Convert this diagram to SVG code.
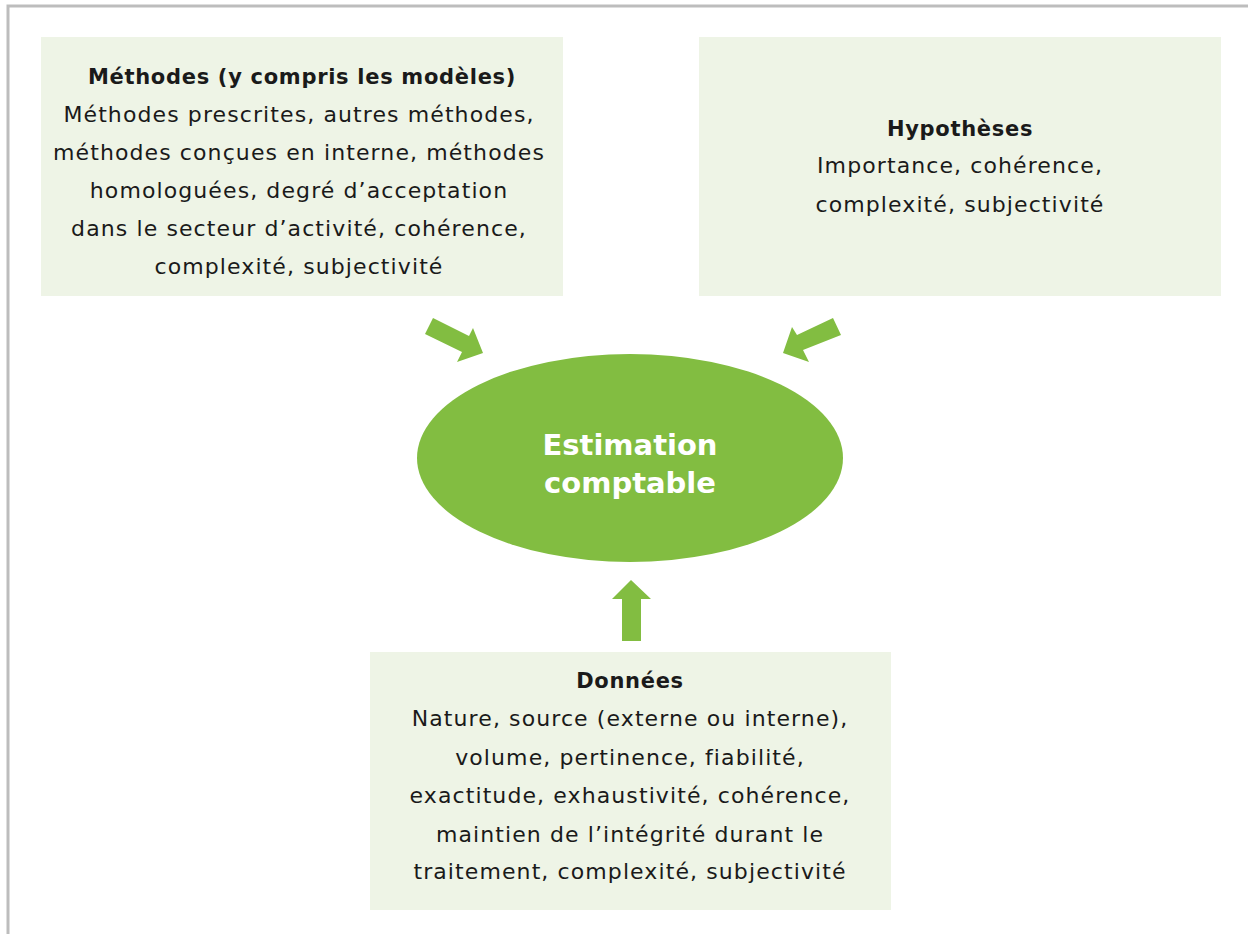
<svg xmlns="http://www.w3.org/2000/svg" width="1248" height="934" viewBox="0 0 1248 934">
<style>
.box{fill:#eef4e6}
.t{font-family:"DejaVu Sans","Open Sans",sans-serif;font-size:22px;letter-spacing:1.1px;fill:#1a1a1a;text-anchor:middle}
.b{font-weight:bold;font-size:21px;letter-spacing:0.7px}
.arr{fill:#82bd41}
.e{font-family:"DejaVu Sans","Open Sans",sans-serif;font-size:29px;font-weight:bold;fill:#ffffff;text-anchor:middle}
</style>
<rect x="0" y="0" width="1248" height="934" fill="#ffffff"/>
<path d="M8,934 V6 H1248" fill="none" stroke="#bdbdbd" stroke-width="3"/>
<g id="methodes">
<rect class="box" x="41" y="37" width="522" height="259"/>
<text class="t b" x="302" y="84">Méthodes (y compris les modèles)</text>
<text class="t" x="299" y="122">Méthodes prescrites, autres méthodes,</text>
<text class="t" x="299" y="160">méthodes conçues en interne, méthodes</text>
<text class="t" x="299" y="198">homologuées, degré d’acceptation</text>
<text class="t" x="299" y="236">dans le secteur d’activité, cohérence,</text>
<text class="t" x="299" y="274">complexité, subjectivité</text>
</g>
<g id="hypotheses">
<rect class="box" x="699" y="37" width="522" height="259"/>
<text class="t b" x="960" y="136">Hypothèses</text>
<text class="t" x="960" y="173">Importance, cohérence,</text>
<text class="t" x="960" y="212">complexité, subjectivité</text>
</g>
<g id="donnees">
<rect class="box" x="370" y="652" width="521" height="258"/>
<text class="t b" x="630" y="688">Données</text>
<text class="t" x="630" y="726">Nature, source (externe ou interne),</text>
<text class="t" x="630" y="765">volume, pertinence, fiabilité,</text>
<text class="t" x="630" y="803">exactitude, exhaustivité, cohérence,</text>
<text class="t" x="630" y="842">maintien de l’intégrité durant le</text>
<text class="t" x="630" y="879">traitement, complexité, subjectivité</text>
</g>
<g id="estimation">
<ellipse cx="630" cy="458" rx="213" ry="104" fill="#82bd41"/>
<text class="e" x="630" y="455">Estimation</text>
<text class="e" x="630" y="493">comptable</text>
</g>
<g id="connectors">
<polygon class="arr" points="433,318 469,336 473,328 483,353 457,362 462,352 425,334"/>
<polygon class="arr" points="833,318 797,335 792,327 783,353 809,362 803,350 841,335"/>
<polygon class="arr" points="631,580 651,599 641,599 641,641 622,641 622,599 612,599"/>
</g>
</svg>
